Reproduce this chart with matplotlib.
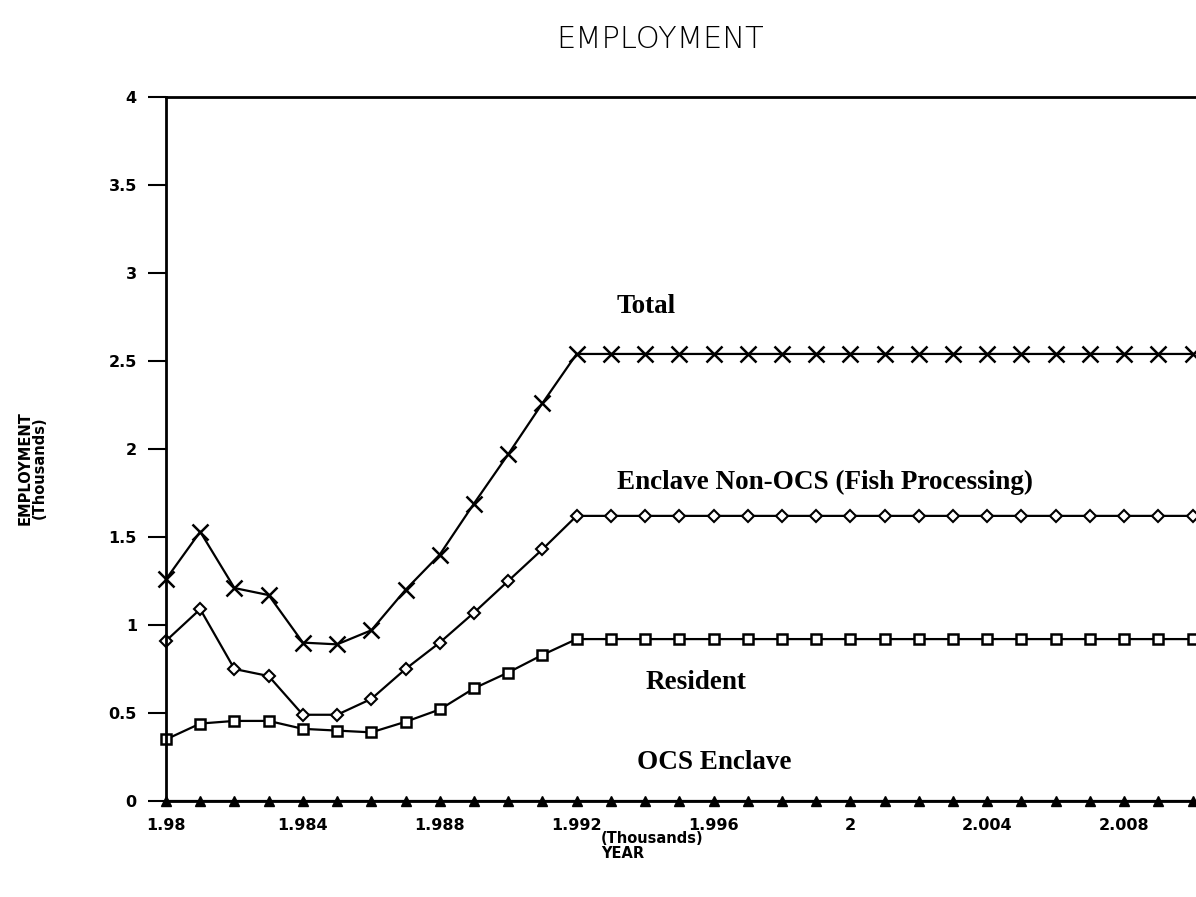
import matplotlib
matplotlib.use("Agg")
import matplotlib.pyplot as plt
import numpy as np

# years in thousands, as on the original axis
years = np.arange(1980, 2011) / 1000.0

total = [1.26, 1.53, 1.21, 1.17, 0.90, 0.89, 0.97, 1.20, 1.40, 1.69, 1.97, 2.26,
         2.54] + [2.54] * 18
enclave_non_ocs = [0.91, 1.09, 0.75, 0.71, 0.49, 0.49, 0.58, 0.75, 0.90, 1.07, 1.25, 1.43,
                   1.62] + [1.62] * 18
resident = [0.35, 0.44, 0.455, 0.455, 0.41, 0.40, 0.39, 0.45, 0.52, 0.64, 0.73, 0.83,
            0.92] + [0.92] * 18
ocs_enclave = [0.0] * 31

xticks = [1.980, 1.984, 1.988, 1.992, 1.996, 2.000, 2.004, 2.008]
xtick_labels = ["1.98", "1.984", "1.988", "1.992", "1.996", "2", "2.004", "2.008"]
yticks = [0, 0.5, 1, 1.5, 2, 2.5, 3, 3.5, 4]
ytick_labels = ["0", "0.5", "1", "1.5", "2", "2.5", "3", "3.5", "4"]

fig = plt.figure(figsize=(11.96, 8.97), dpi=100)
ax = fig.add_axes([166 / 1196, 1 - 801 / 897, 1 - 166 / 1196, (801 - 97) / 897])

lw = 1.6
ax.plot(years, total, color="black", lw=lw, marker="x", markersize=11, mew=1.8, clip_on=False)
ax.plot(years, enclave_non_ocs, color="black", lw=lw, marker="D", markersize=6,
        mfc="white", mew=1.5, clip_on=False)
ax.plot(years, resident, color="black", lw=lw, marker="s", markersize=7.5,
        mfc="white", mew=1.8, clip_on=False)
ax.plot(years, ocs_enclave, color="black", lw=lw, marker="^", markersize=7, clip_on=False)

ax.set_xlim(1.980, 2.0101)
ax.set_ylim(0, 4)
ax.set_xticks(xticks)
ax.set_xticklabels(xtick_labels)
ax.set_yticks(yticks)
ax.set_yticklabels(ytick_labels)
ax.tick_params(axis="both", direction="out", length=13, width=1.5,
               labelsize=11.5, pad=8)
for lab in ax.get_xticklabels() + ax.get_yticklabels():
    lab.set_fontweight("bold")
ax.tick_params(axis="x", length=0, pad=12)

ax.spines["right"].set_visible(False)
for s in ["left", "bottom", "top"]:
    ax.spines[s].set_linewidth(2)

serif = {"family": "Liberation Serif", "weight": "bold", "size": 19.5}
ax.text(1.99318, 2.81, "Total", ha="left", va="center", **serif)
ax.text(1.99318, 1.81, "Enclave Non-OCS (Fish Processing)", ha="left", va="center", **serif)
ax.text(1.99400, 0.676, "Resident", ha="left", va="center", **serif)
ax.text(1.99376, 0.22, "OCS Enclave", ha="left", va="center", **serif)

fig.text(660 / 1196, 1 - 40 / 897, "EMPLOYMENT", ha="center", va="center",
         fontsize=22, fontweight="light")
fig.text(32 / 1196, 1 - 468 / 897, "EMPLOYMENT\n(Thousands)", ha="center", va="center",
         rotation=90, fontsize=10.5, fontweight="bold", linespacing=0.95)
fig.text(601 / 1196, 1 - 846 / 897, "(Thousands)\nYEAR", ha="left", va="center",
         fontsize=10.5, fontweight="bold", linespacing=1.0)

fig.savefig("out.png", dpi=100)
